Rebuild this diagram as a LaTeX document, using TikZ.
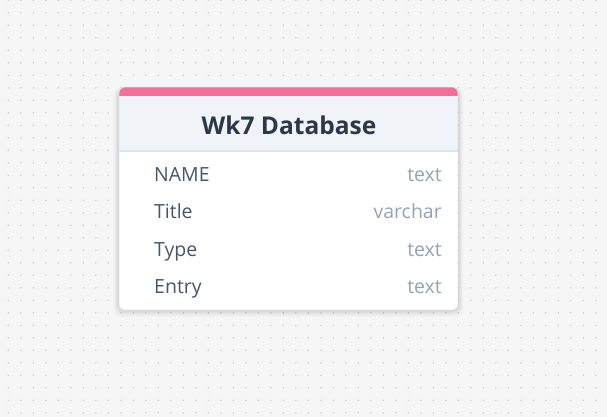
\documentclass[tikz,border=0pt]{standalone}
\usepackage{fontspec}
\setmainfont{Open Sans}
\usetikzlibrary{calc}
\definecolor{bgc}{HTML}{F6F6F6}
\definecolor{dotc}{HTML}{C9C9C9}
\definecolor{pinkc}{HTML}{F36E98}
\definecolor{headc}{HTML}{F0F4F9}
\definecolor{divc}{HTML}{DCE4EE}
\definecolor{titlec}{HTML}{2D3748}
\definecolor{namec}{HTML}{4A5568}
\definecolor{typec}{HTML}{94A3B8}
\definecolor{edgec}{HTML}{E2E8F0}
\tikzset{
  fieldname/.style={anchor=base west, inner sep=0pt, text=namec, font=\fontsize{19.5}{21}\selectfont},
  fieldtype/.style={anchor=base east, inner sep=0pt, text=typec, font=\fontsize{19.5}{21}\selectfont},
  titlestyle/.style={anchor=base, inner sep=0pt, text=titlec, font=\fontsize{24.5}{27}\selectfont\bfseries},
}
\begin{document}
\begin{tikzpicture}[x=1pt,y=-1pt]
\fill[bgc] (0,0) rectangle (607,417);
\useasboundingbox (0,0) rectangle (607,417);
\foreach \i in {0,...,47}{
  \foreach \j in {0,...,33}{
    \fill[dotc] ({8.3+12.5*\i},{0.3+12.5*\j}) circle (0.8);
  }
}
% shadow
\foreach \k/\o in {9/0.02,7/0.025,5/0.03,3/0.035,1/0.04}{
  \fill[black,opacity=\o,rounded corners=8] ({119-\k*0.6},{89-\k*0.2}) rectangle ({458+\k*0.6},{310+\k*0.8});
}
% card
\begin{scope}
  \clip[rounded corners=6] (119,87) rectangle (458,310);
  \fill[white] (119,87) rectangle (458,310);
  \fill[headc] (119,96) rectangle (458,151);
  \fill[pinkc] (119,87) rectangle (458,96);
  \draw[divc,line width=2] (119,151) -- (458,151);
\end{scope}
\draw[edgec,line width=0.6,rounded corners=6] (119,87) rectangle (458,310);
\node[titlestyle] (title) at (289,135) {Wk7 Database};
\node[fieldname] (n1) at (154,181) {NAME};
\node[fieldtype] (t1) at (442,181) {text};
\node[fieldname] (n2) at (154,218.5) {Title};
\node[fieldtype] (t2) at (442,218.5) {varchar};
\node[fieldname] (n3) at (154,256) {Type};
\node[fieldtype] (t3) at (442,256) {text};
\node[fieldname] (n4) at (154,293.5) {Entry};
\node[fieldtype] (t4) at (442,293.5) {text};
\end{tikzpicture}
\end{document}
